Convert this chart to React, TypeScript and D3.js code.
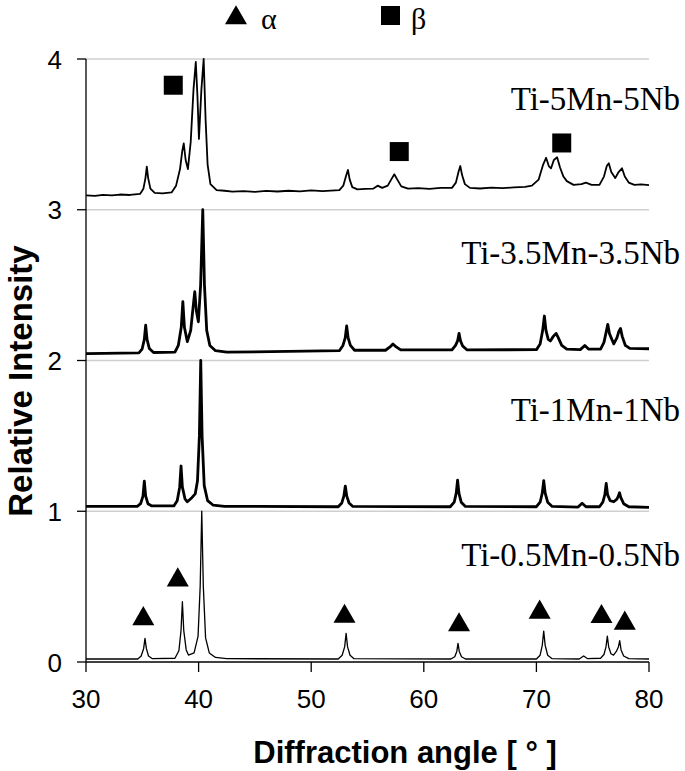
import React from 'react';
import * as d3 from 'd3';

// [angle, relative intensity], traces stacked with offsets 0..3
const ti05: [number, number][] = [
  [30, 0.02], [34.6, 0.02], [34.9, 0.04], [35.12, 0.09], [35.24, 0.157], [35.36, 0.09], [35.55, 0.04], [35.9, 0.022],
  [37.9, 0.025], [38.25, 0.075], [38.44, 0.21], [38.56, 0.4], [38.68, 0.21], [38.9, 0.08], [39.1, 0.046],
  [39.6, 0.06], [39.95, 0.17], [40.14, 0.5], [40.28, 1.0], [40.42, 0.5], [40.62, 0.16], [40.95, 0.06], [41.5, 0.03], [42.5, 0.022],
  [52.4, 0.02], [52.75, 0.045], [52.97, 0.1], [53.1, 0.19], [53.23, 0.1], [53.45, 0.045], [53.8, 0.022],
  [62.4, 0.02], [62.75, 0.035], [62.93, 0.07], [63.04, 0.124], [63.15, 0.07], [63.35, 0.035], [63.7, 0.02],
  [70.0, 0.02], [70.33, 0.045], [70.52, 0.11], [70.65, 0.205], [70.78, 0.11], [71.0, 0.045], [71.4, 0.022],
  [73.8, 0.02], [74.2, 0.04], [74.55, 0.022],
  [75.7, 0.025], [76.0, 0.05], [76.18, 0.1], [76.3, 0.172], [76.42, 0.1], [76.62, 0.055], [76.85, 0.046],
  [77.1, 0.07], [77.28, 0.1], [77.4, 0.141], [77.52, 0.08], [77.75, 0.04], [78.2, 0.022], [80, 0.02],
];

const ti1: [number, number][] = [
  [30, 1.033], [34.55, 1.033], [34.85, 1.05], [35.06, 1.1], [35.18, 1.2], [35.3, 1.1], [35.5, 1.05], [35.85, 1.035],
  [37.8, 1.035], [38.1, 1.07], [38.32, 1.16], [38.44, 1.3], [38.56, 1.16], [38.8, 1.08], [39.0, 1.063],
  [39.4, 1.09], [39.7, 1.115], [39.9, 1.2], [40.07, 1.5], [40.19, 2.0], [40.31, 1.5], [40.5, 1.17], [40.8, 1.07], [41.3, 1.04], [42.3, 1.033],
  [52.4, 1.03], [52.72, 1.055], [52.9, 1.1], [53.03, 1.167], [53.16, 1.1], [53.36, 1.055], [53.7, 1.032],
  [62.35, 1.03], [62.7, 1.06], [62.88, 1.12], [63.0, 1.207], [63.12, 1.12], [63.32, 1.06], [63.7, 1.032],
  [70.0, 1.03], [70.33, 1.06], [70.52, 1.12], [70.65, 1.203], [70.78, 1.12], [71.0, 1.06], [71.4, 1.032],
  [73.7, 1.028], [74.06, 1.053], [74.4, 1.03],
  [75.6, 1.03], [75.9, 1.06], [76.08, 1.11], [76.2, 1.185], [76.32, 1.11], [76.55, 1.07], [76.87, 1.063],
  [77.15, 1.08], [77.28, 1.1], [77.38, 1.123], [77.5, 1.09], [77.75, 1.05], [78.2, 1.03], [80, 1.026],
];

const ti35: [number, number][] = [
  [30, 2.045], [34.7, 2.05], [34.98, 2.075], [35.18, 2.14], [35.3, 2.235], [35.42, 2.14], [35.62, 2.08], [36.0, 2.053],
  [37.9, 2.055], [38.2, 2.1], [38.46, 2.22], [38.6, 2.39], [38.74, 2.22], [39.0, 2.125],
  [39.3, 2.2], [39.52, 2.36], [39.66, 2.456], [39.8, 2.33], [39.98, 2.257],
  [40.18, 2.5], [40.37, 3.0], [40.52, 2.5], [40.72, 2.2], [41.0, 2.1], [41.5, 2.065], [42.5, 2.055],
  [52.5, 2.065], [52.82, 2.1], [53.02, 2.15], [53.15, 2.229], [53.28, 2.15], [53.48, 2.1], [53.85, 2.068],
  [56.6, 2.068], [57.0, 2.09], [57.26, 2.11], [57.55, 2.09], [57.95, 2.07],
  [62.5, 2.07], [62.82, 2.1], [63.0, 2.13], [63.13, 2.18], [63.26, 2.13], [63.46, 2.095], [63.85, 2.07],
  [70.0, 2.072], [70.33, 2.11], [70.56, 2.2], [70.71, 2.295], [70.85, 2.2], [71.05, 2.14], [71.24, 2.13],
  [71.5, 2.16], [71.75, 2.18], [71.95, 2.15], [72.25, 2.1], [72.7, 2.075],
  [73.9, 2.072], [74.3, 2.1], [74.65, 2.075],
  [75.7, 2.075], [76.0, 2.12], [76.2, 2.19], [76.34, 2.24], [76.48, 2.18], [76.87, 2.11],
  [77.15, 2.15], [77.33, 2.195], [77.47, 2.213], [77.62, 2.16], [77.9, 2.1], [78.3, 2.08], [80, 2.078],
];

const ti5: [number, number][] = [
  [30, 3.095], [30.8, 3.092], [31.5, 3.099], [32.3, 3.096], [33, 3.101], [33.9, 3.098], [34.8, 3.105],
  [35.1, 3.14], [35.28, 3.21], [35.4, 3.286], [35.52, 3.21], [35.72, 3.14], [36.1, 3.112],
  [36.8, 3.108], [37.6, 3.115], [38.0, 3.16], [38.35, 3.27], [38.55, 3.39], [38.68, 3.44], [38.85, 3.33], [39.05, 3.27],
  [39.3, 3.45], [39.55, 3.8], [39.75, 3.98], [39.9, 3.75], [40.03, 3.47],
  [40.25, 3.8], [40.45, 4.0], [40.62, 3.6], [40.8, 3.3], [41.05, 3.17], [41.6, 3.13], [42.3, 3.126], [43, 3.12],
  [44, 3.124], [45, 3.119], [46, 3.125], [47, 3.121], [48, 3.126], [49, 3.122], [50, 3.128], [51, 3.124],
  [52.5, 3.13], [52.85, 3.16], [53.08, 3.22], [53.26, 3.264], [53.42, 3.2], [53.65, 3.15], [54.1, 3.135],
  [54.8, 3.138], [55.5, 3.14], [55.9, 3.16], [56.3, 3.145], [56.8, 3.16], [57.1, 3.2], [57.38, 3.235], [57.65, 3.2], [58.0, 3.155], [58.6, 3.14],
  [59.5, 3.143], [60.5, 3.139], [61.5, 3.145], [62.5, 3.145], [62.85, 3.18], [63.08, 3.25], [63.24, 3.29], [63.4, 3.23], [63.65, 3.17], [64.1, 3.145],
  [65, 3.141], [66, 3.147], [67, 3.143], [68, 3.148], [69, 3.152], [69.6, 3.16], [70.2, 3.2], [70.6, 3.3], [70.86, 3.345], [71.1, 3.29], [71.3, 3.275],
  [71.55, 3.33], [71.84, 3.348], [72.1, 3.28], [72.4, 3.22], [72.7, 3.19], [73.3, 3.165],
  [74.0, 3.17], [74.4, 3.18], [74.9, 3.165],
  [75.6, 3.165], [76.0, 3.22], [76.25, 3.29], [76.43, 3.308], [76.65, 3.25], [77.0, 3.21],
  [77.3, 3.25], [77.6, 3.275], [77.85, 3.22], [78.2, 3.18], [78.7, 3.165], [79.3, 3.168], [80, 3.164],
];

const traces = [
  { name: 'Ti-0.5Mn-0.5Nb', data: ti05, width: 1.3, labelY: 0.64 },
  { name: 'Ti-1Mn-1Nb', data: ti1, width: 2.8, labelY: 1.6 },
  { name: 'Ti-3.5Mn-3.5Nb', data: ti35, width: 2.8, labelY: 2.64 },
  { name: 'Ti-5Mn-5Nb', data: ti5, width: 1.8, labelY: 3.66 },
];

// phase markers [angle, height]
const alphaMarks: [number, number][] = [
  [35.09, 0.3], [38.15, 0.557], [52.96, 0.315], [63.13, 0.259], [70.29, 0.343], [75.78, 0.314], [77.85, 0.27],
];
const betaMarks: [number, number][] = [[37.75, 3.826], [57.82, 3.386], [72.25, 3.443]];

const xTicks = [30, 40, 50, 60, 70, 80];
const yTicks = [0, 1, 2, 3, 4];

const W = 685;
const H = 771;

export default function App() {
  const x = d3.scaleLinear().domain([30, 80]).range([86, 649]);
  const y = d3.scaleLinear().domain([0, 4]).range([662, 59]);
  const line = d3.line<[number, number]>().x(d => x(d[0])).y(d => y(d[1]));
  const tri = d3.symbol().type(d3.symbolTriangle).size(210)() as string;

  return (
    <svg width={W} height={H} style={{ position: 'absolute', left: 0, top: 0, background: '#fff' }}>
      {/* grid */}
      {yTicks.filter(t => t > 0).map(t => (
        <line key={t} x1={x(30)} x2={x(80)} y1={y(t)} y2={y(t)} stroke="#cfcfcf" strokeWidth={1.5} />
      ))}
      {/* axes */}
      <line x1={x(30)} x2={x(30)} y1={y(0)} y2={y(4)} stroke="#000" strokeWidth={1.3} />
      <line x1={x(30)} x2={x(80)} y1={y(0)} y2={y(0)} stroke="#000" strokeWidth={1.3} />
      {yTicks.map(t => (
        <g key={t}>
          <line x1={x(30) - 9} x2={x(30)} y1={y(t)} y2={y(t)} stroke="#000" strokeWidth={1.3} />
          <text x={62} y={y(t) + 9.5} textAnchor="end" fontFamily="Liberation Sans, Arial" fontSize={26}>{t}</text>
        </g>
      ))}
      {xTicks.map(t => (
        <g key={t}>
          <line x1={x(t)} x2={x(t)} y1={y(0)} y2={y(0) + 10} stroke="#000" strokeWidth={1.3} />
          <text x={x(t)} y={708} textAnchor="middle" fontFamily="Liberation Sans, Arial" fontSize={26}>{t}</text>
        </g>
      ))}
      {/* traces */}
      {traces.map(s => (
        <path key={s.name} d={line(s.data) || ''} fill="none" stroke="#000" strokeWidth={s.width} strokeLinejoin="round" />
      ))}
      {traces.map(s => (
        <text key={s.name} x={680} y={y(s.labelY)} textAnchor="end" fontFamily="Liberation Serif, Times New Roman" fontSize={33}>{s.name}</text>
      ))}
      {/* markers */}
      {alphaMarks.map((m, i) => (
        <path key={i} d={tri} transform={`translate(${x(m[0])},${y(m[1]) + 2})`} fill="#000" />
      ))}
      {betaMarks.map((m, i) => (
        <rect key={i} x={x(m[0]) - 9.5} y={y(m[1]) - 9.5} width={19} height={19} fill="#000" />
      ))}
      {/* legend */}
      <path d={tri} transform="translate(236,18)" fill="#000" />
      <text x={261} y={29} fontFamily="Liberation Serif, Times New Roman" fontSize={30}>α</text>
      <rect x={381} y={6} width={19} height={19} fill="#000" />
      <text x={411} y={29} fontFamily="Liberation Serif, Times New Roman" fontSize={30}>β</text>
      {/* axis titles */}
      <text x={405} y={763} textAnchor="middle" fontFamily="Liberation Sans, Arial" fontWeight="bold" fontSize={31}>Diffraction angle [ ° ]</text>
      <text transform="translate(32,381) rotate(-90)" textAnchor="middle" fontFamily="Liberation Sans, Arial" fontWeight="bold" fontSize={33}>Relative Intensity</text>
    </svg>
  );
}
